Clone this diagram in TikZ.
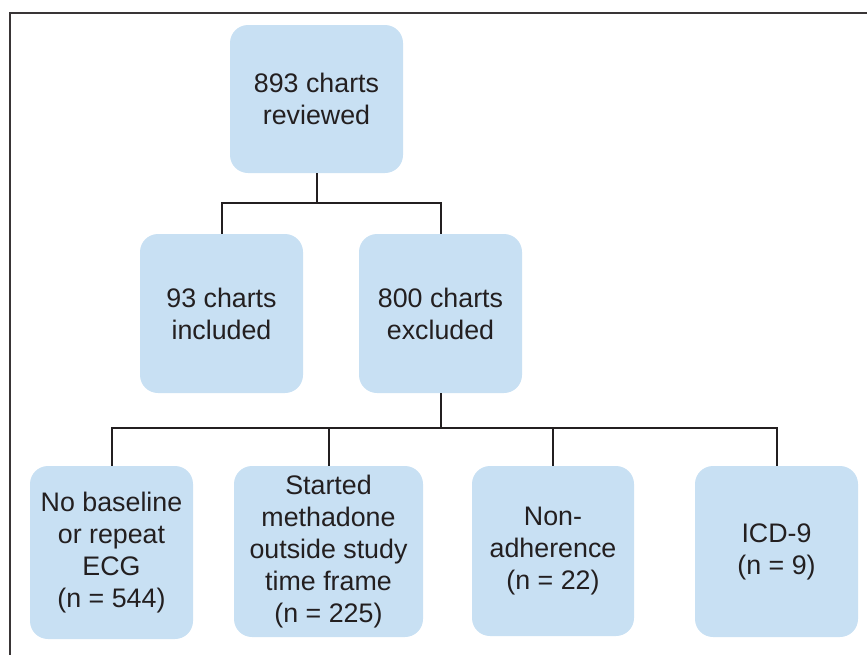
\documentclass[tikz,border=0pt]{standalone}
\usepackage{fontspec}
\setmainfont{Liberation Sans}
\definecolor{boxblue}{RGB}{200,224,243}
\definecolor{ink}{RGB}{35,31,32}
\begin{document}
\begin{tikzpicture}[x=0.5pt, y=-0.5pt]

\tikzstyle{every node} = [rectangle, rounded corners=9pt, fill=boxblue, text=ink, align=center, inner sep=0pt, font={\fontsize{13.4}{16}\selectfont}]
\tikzstyle{conn} = [draw=ink, line width=1pt]

\useasboundingbox (0,0) rectangle (867,654);
\draw[ink!90, line width=1pt] (10,13) rectangle (900,700);

\node[minimum width=86.5pt, minimum height=74pt] (rev) at (316.5,99) {893 charts\\reviewed};

\node[minimum width=81.5pt, minimum height=79.5pt] (inc) at (221.5,313.5) {93 charts\\included};
\node[minimum width=81.5pt, minimum height=79.5pt] (exc) at (440.5,313.5) {800 charts\\excluded};

\node[minimum width=81.5pt, minimum height=86.5pt] (ecg) at (111.5,552.5) {No baseline\\or repeat\\ECG\\(n = 544)};
\node[minimum width=94.5pt, minimum height=85.5pt] (tf) at (328.5,551.5) {Started\\methadone\\outside study\\time frame\\(n = 225)};
\node[minimum width=81pt, minimum height=85pt] (adh) at (553,551) {Non-\\adherence\\(n = 22)};
\node[minimum width=81.5pt, minimum height=85.5pt] (icd) at (776.5,551.5) {ICD-9\\(n = 9)};


\draw[conn] (rev.south) -- ++(0,30) coordinate (j1);
\draw[conn] (inc.north) |- (j1) -| (exc.north);
\draw[conn] (exc.south) -- ++(0,35) coordinate (j2);
\draw[conn] (ecg.north) |- (j2) -| (icd.north);
\draw[conn] (tf.north) -- (tf.north |- j2);
\draw[conn] (adh.north) -- (adh.north |- j2);
\end{tikzpicture}
\end{document}
